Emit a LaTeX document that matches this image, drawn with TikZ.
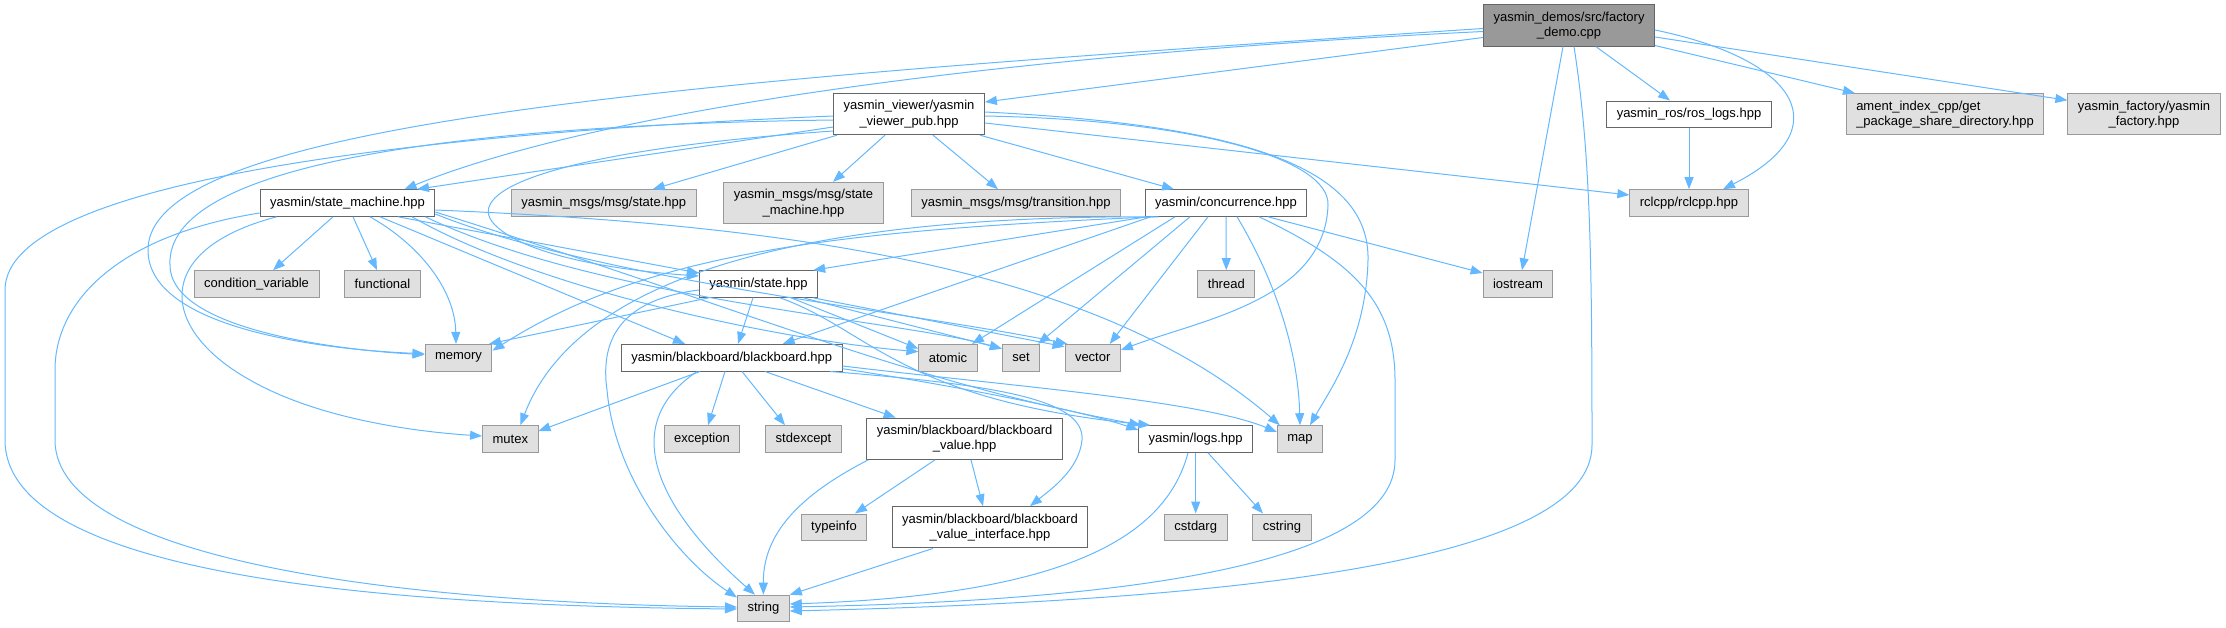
\documentclass[tikz,border=0pt]{standalone}
\usepackage{fontspec}
\setmainfont{Liberation Sans}
\usetikzlibrary{arrows.meta}
\definecolor{edgeblue}{HTML}{63B8FF}
\definecolor{boxgray}{HTML}{E0E0E0}
\definecolor{rimgray}{HTML}{999999}
\definecolor{rimdark}{HTML}{666666}

\begin{document}
\begin{tikzpicture}[x=1pt,y=-1pt,
  incbox/.style={rectangle,draw,line width=1pt,font=\fontsize{13pt}{15.3pt}\selectfont,
    inner xsep=10pt,inner ysep=2pt,minimum height=26.6pt,align=center},
  hdr/.style={incbox,draw=rimdark,fill=white},
  sys/.style={incbox,draw=rimgray,fill=boxgray},
  rootbox/.style={incbox,draw=rimdark,fill=rimgray},
  tall/.style={minimum height=41.3pt},
  inc/.style={draw=edgeblue,line width=1pt,-{Triangle[length=12pt,width=9pt]}}]
   \useasboundingbox (0,0) rectangle (2226,627);
   % files
   \node [rootbox,tall] (demo) at (1569,25.5) {yasmin\_demos/src/factory\\\_demo.cpp};
   \node [hdr,tall] (viewer) at (909,114) {yasmin\_viewer/yasmin\\\_viewer\_pub.hpp};
   \node [hdr] (roslogs) at (1689,114.3) {yasmin\_ros/ros\_logs.hpp};
   \node [sys,tall,align=left] (ament) at (1945,114.3) {ament\_index\_cpp/get\\\_package\_share\_directory.hpp};
   \node [sys,tall] (yfactory) at (2144,114.3) {yasmin\_factory/yasmin\\\_factory.hpp};
   \node [hdr] (sm) at (347.5,203) {yasmin/state\_machine.hpp};
   \node [sys] (msgstate) at (603.7,203) {yasmin\_msgs/msg/state.hpp};
   \node [sys,tall] (msgsm) at (803.5,203) {yasmin\_msgs/msg/state\\\_machine.hpp};
   \node [sys] (transition) at (1016,203) {yasmin\_msgs/msg/transition.hpp};
   \node [hdr] (concurrence) at (1226,203) {yasmin/concurrence.hpp};
   \node [sys] (rclcpp) at (1689,203) {rclcpp/rclcpp.hpp};
   \node [sys] (condvar) at (256.6,284) {condition\_variable};
   \node [sys] (functional) at (382.5,284) {functional};
   \node [hdr] (state) at (758.5,284) {yasmin/state.hpp};
   \node [sys] (thread) at (1226.3,284) {thread};
   \node [sys] (iostream) at (1518,284) {iostream};
   \node [sys] (memory) at (458.5,357.7) {memory};
   \node [hdr] (blackboard) at (731.7,357.7) {yasmin/blackboard/blackboard.hpp};
   \node [sys] (atomic) at (948,357.7) {atomic};
   \node [sys] (set) at (1021,357.7) {set};
   \node [sys] (vector) at (1092.7,357.7) {vector};
   \node [sys] (mutex) at (510.3,439) {mutex};
   \node [sys] (exception) at (702,439) {exception};
   \node [sys] (stdexcept) at (803.5,439) {stdexcept};
   \node [hdr,tall] (bbvalue) at (964.6,438.7) {yasmin/blackboard/blackboard\\\_value.hpp};
   \node [hdr] (logs) at (1195.7,439) {yasmin/logs.hpp};
   \node [sys] (map) at (1300,439) {map};
   \node [sys] (typeinfo) at (834,527.3) {typeinfo};
   \node [hdr,tall] (valueiface) at (990,527.3) {yasmin/blackboard/blackboard\\\_value\_interface.hpp};
   \node [sys] (cstdarg) at (1195.7,527.3) {cstdarg};
   \node [sys] (cstring) at (1282,527.3) {cstring};
   \node [sys] (string) at (763.4,608.5) {string};

   % factory_demo.cpp
   \draw [inc] ([yshift=-12pt]demo.west) -- ([yshift=12pt]viewer.east);
   \draw [inc] ([yshift=-6pt]demo.west) .. controls (1000,55) and (600,110) .. ([xshift=57pt]sm.north);
   \draw [inc] ([yshift=-3pt]demo.west) .. controls (700,80) and (148,120) .. (148,250)
      .. controls (148,330) and (330,350) .. ([yshift=4pt]memory.west); % far round
   \draw [inc] ([xshift=5pt]demo.south) .. controls (1590,150) and (1592,250) .. (1592,445)
      .. controls (1592,560) and (1250,600) .. ([yshift=-2.5pt]string.east);
   \draw [inc] ([xshift=-6pt]demo.south) -- ([xshift=4pt]iostream.north);
   \draw [inc] ([xshift=27pt]demo.south) -- ([xshift=-19pt]roslogs.north);
   \draw [inc] ([yshift=-4.5pt]demo.east) .. controls (1800,60) and (1840,130) .. ([xshift=34pt]rclcpp.north);
   \draw [inc] ([yshift=-20pt]demo.east) -- ([xshift=-90pt]ament.north);
   \draw [inc] ([yshift=-11.5pt]demo.east) -- ([yshift=14pt]yfactory.west);

   % yasmin_viewer_pub.hpp
   \draw [inc] ([yshift=-2pt]viewer.west) .. controls (500,130) and (5,170) .. (5,290) -- (5,440)
      .. controls (5,560) and (300,605) .. ([yshift=-0.5pt]string.west); % outer left
   \draw [inc] ([yshift=-6pt]viewer.west) .. controls (450,125) and (165,165) .. (170,265)
      .. controls (170,330) and (340,350) .. ([yshift=3pt]memory.west);
   \draw [inc] ([yshift=-13pt]viewer.west) -- ([xshift=69.5pt]sm.north);
   \draw [inc] ([yshift=-17pt]viewer.west) .. controls (560,150) and (460,190) .. (495,225)
      .. controls (530,260) and (640,272) .. ([yshift=8pt]state.west);
   \draw [inc] ([xshift=4pt]viewer.south west) -- ([xshift=49pt]msgstate.north);
   \draw [inc] ([xshift=-24pt]viewer.south) -- ([xshift=29.5pt]msgsm.north);
   \draw [inc] ([xshift=24pt]viewer.south) -- ([xshift=-18pt]transition.north);
   \draw [inc] ([xshift=-5pt]viewer.south east) -- ([xshift=-52pt]concurrence.north);
   \draw [inc] ([yshift=-9pt]viewer.east) -- ([yshift=8pt]rclcpp.west);
   \draw [inc] ([yshift=-2pt]viewer.east) .. controls (1200,120) and (1330,160) .. (1328,205)
      .. controls (1325,300) and (1200,320) .. ([yshift=7.7pt]vector.east);
   \draw [inc] ([yshift=2pt]viewer.east) .. controls (1250,125) and (1370,170) .. (1368,260)
      .. controls (1366,340) and (1330,390) .. ([xshift=10pt]map.north);

   \draw [inc] (roslogs) -- (rclcpp);

   % state_machine.hpp
   \draw [inc] ([yshift=-10pt]sm.west) .. controls (120,235) and (55,300) .. (55,370) -- (55,440)
      .. controls (55,560) and (400,603) .. ([yshift=1.5pt]string.west);
   \draw [inc] ([xshift=17pt]sm.south west) .. controls (150,250) and (160,330) .. (250,380)
      .. controls (320,420) and (420,432) .. ([yshift=3pt]mutex.west);
   \draw [inc] ([xshift=-14.5pt]sm.south) -- ([xshift=16.4pt]condvar.north);
   \draw [inc] ([xshift=5.5pt]sm.south) -- ([xshift=-5.5pt]functional.north);
   \draw [inc] ([xshift=22.5pt]sm.south) .. controls (420,245) and (455,290) .. ([xshift=-2.5pt]memory.north);
   \draw [inc] ([xshift=32.5pt]sm.south) -- ([xshift=-46.7pt]blackboard.north);
   \draw [inc] ([xshift=50.5pt]sm.south) -- ([yshift=11pt]state.west);
   \draw [inc] ([xshift=64.5pt]sm.south) .. controls (540,290) and (780,340) .. ([yshift=6pt]atomic.west);
   \draw [inc] ([xshift=-10pt]sm.south east) .. controls (600,300) and (900,320) .. ([yshift=9pt]set.west);
   \draw [inc] ([yshift=-11pt]sm.east) .. controls (600,280) and (900,310) .. ([xshift=3pt]vector.north west);
   \draw [inc] ([yshift=-9pt]sm.east) .. controls (750,310) and (900,380) .. ([xshift=3pt]logs.north west);
   \draw [inc] ([yshift=-7pt]sm.east) .. controls (800,225) and (1100,270) .. ([xshift=3pt]map.north west);

   % concurrence.hpp
   \draw [inc] ([xshift=2pt]concurrence.south west) -- ([xshift=-5pt]state.north east);
   \draw [inc] ([xshift=6pt]concurrence.south west) -- ([xshift=51pt]blackboard.north);
   \draw [inc] ([xshift=10pt]concurrence.south west) .. controls (850,230) and (650,250) .. ([yshift=7pt]memory.east);
   \draw [inc] ([xshift=14pt]concurrence.south west) .. controls (820,215) and (580,270) .. ([xshift=10pt]mutex.north);
   \draw [inc] ([xshift=-51pt]concurrence.south) -- ([xshift=24pt]atomic.north);
   \draw [inc] ([xshift=-36pt]concurrence.south) -- ([xshift=17pt]set.north);
   \draw [inc] ([xshift=-18pt]concurrence.south) -- ([xshift=17pt]vector.north);
   \draw [inc] (concurrence.south) -- (thread.north);
   \draw [inc] ([xshift=11pt]concurrence.south) .. controls (1275,280) and (1298,350) .. (map.north);
   \draw [inc] ([xshift=33pt]concurrence.south) .. controls (1350,260) and (1395,300) .. (1395,380) -- (1395,460)
      .. controls (1395,560) and (1150,600) .. ([yshift=1.5pt]string.east);
   \draw [inc] ([xshift=42pt]concurrence.south) -- ([yshift=11pt]iostream.west);

   % state.hpp
   \draw [inc] ([xshift=10pt]state.south west) -- ([xshift=-3.5pt]memory.north east);
   \draw [inc] ([yshift=-6pt]state.west) .. controls (620,300) and (600,340) .. (607,390)
      .. controls (615,480) and (680,560) .. ([yshift=11pt]string.west);
   \draw [inc] ([xshift=-5.5pt]state.south) -- ([xshift=6.3pt]blackboard.north);
   \draw [inc] ([xshift=21.5pt]state.south) .. controls (870,330) and (900,400) .. ([xshift=12pt]logs.north west);
   \draw [inc] ([xshift=32.5pt]state.south) -- ([yshift=9pt]atomic.west);
   \draw [inc] ([xshift=-15pt]state.south east) -- ([yshift=9pt]set.west);
   \draw [inc] ([xshift=-5pt]state.south east) -- ([yshift=11pt]vector.west);

   % blackboard.hpp
   \draw [inc] ([xshift=-31.7pt]blackboard.south) -- ([yshift=8pt]mutex.east);
   \draw [inc] ([xshift=-34.7pt]blackboard.south) .. controls (610,430) and (670,520) .. ([xshift=-8.4pt]string.north);
   \draw [inc] ([xshift=-6.7pt]blackboard.south) -- ([xshift=6pt]exception.north);
   \draw [inc] ([xshift=10.3pt]blackboard.south) -- ([xshift=-18.5pt]stdexcept.north);
   \draw [inc] ([xshift=33.3pt]blackboard.south) -- ([xshift=29.3pt]bbvalue.north west);
   \draw [inc] ([yshift=-8.3pt]blackboard.east) .. controls (1000,385) and (1200,400) .. ([yshift=7pt]map.west);
   \draw [inc] ([yshift=-11pt]blackboard.east) .. controls (950,385) and (1080,410) .. ([yshift=9pt]logs.west);
   \draw [inc] ([xshift=-12.5pt]blackboard.south east) .. controls (1000,385) and (1085,400) .. (1082,440)
      .. controls (1079,470) and (1050,490) .. ([xshift=40pt]valueiface.north);

   % blackboard_value.hpp and the rest
   \draw [inc] ([xshift=-29.6pt]bbvalue.south) -- ([xshift=21pt]typeinfo.north);
   \draw [inc] ([xshift=6.4pt]bbvalue.south) -- ([xshift=-7pt]valueiface.north);
   \draw [inc] ([xshift=2pt]bbvalue.south west) .. controls (790,500) and (763,540) .. (string.north);
   \draw [inc] ([xshift=-57pt]valueiface.south) -- (string.north east);
   \draw [inc] (logs.south) -- (cstdarg.north);
   \draw [inc] ([xshift=12.3pt]logs.south) -- ([xshift=-19pt]cstring.north);
   \draw [inc] ([xshift=-7.7pt]logs.south) .. controls (1165,540) and (1060,595) .. ([yshift=4.5pt]string.east);
\end{tikzpicture}
\end{document}
